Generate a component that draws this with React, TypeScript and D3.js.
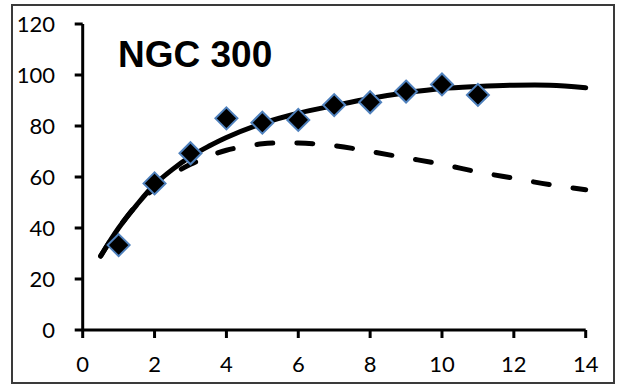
import React from "react";
import * as d3 from "d3";

const obsX = [1, 2, 3, 4, 5, 6, 7, 8, 9, 10, 11];
const obsY = [33.3, 57.5, 69.3, 83, 81.3, 82.4, 88.2, 89.3, 93.5, 96.3, 92.2];

const modelX = [0.5, 1, 1.5, 2, 2.5, 3, 3.5, 4, 5, 6, 7, 8, 9, 10, 11, 12, 13, 14];
const solidY = [29, 40, 49, 57, 63, 68, 72, 75.5, 81, 85, 88, 90.8, 93, 94.7, 95.5, 96, 96, 95];
const dashedY = [29, 40, 49, 55.5, 61, 65, 68, 70.5, 73, 73.3, 72.3, 70, 67.5, 65, 62, 59.5, 57, 55];

const xTicks = [0, 2, 4, 6, 8, 10, 12, 14];
const yTicks = [0, 20, 40, 60, 80, 100, 120];
const title = "NGC 300";

export default function App() {
  const W = 620, H = 385;
  const x = d3.scaleLinear().domain([0, 14]).range([82.7, 585.7]);
  const y = d3.scaleLinear().domain([0, 120]).range([330, 24]);
  const line = d3
    .line<number>()
    .x((_, i) => x(modelX[i]))
    .y((d) => y(d))
    .curve(d3.curveCatmullRom);
  const font = "Lato, 'Open Sans', sans-serif";
  const r = 11;
  return (
    <svg width={W} height={H} style={{ position: "absolute", left: 0, top: 0, background: "#fff" }}>
      <rect x={12} y={5} width={602} height={378} fill="#fff" stroke="#3a3a3a" strokeWidth={2} />
      {/* axes */}
      <line x1={x(0)} x2={x(14)} y1={y(0)} y2={y(0)} stroke="#000" strokeWidth={3} />
      <line x1={x(0)} x2={x(0)} y1={y(0)} y2={y(120)} stroke="#000" strokeWidth={3} />
      {yTicks.map((t) => (
        <g key={"y" + t}>
          <line x1={x(0) - 8} x2={x(0)} y1={y(t)} y2={y(t)} stroke="#000" strokeWidth={3} />
          <text x={55} y={y(t)} dy="0.36em" textAnchor="end" fontFamily={font} fontSize={22} fill="#000">
            {t}
          </text>
        </g>
      ))}
      {xTicks.map((t) => (
        <g key={"x" + t}>
          <line x1={x(t)} x2={x(t)} y1={y(0)} y2={y(0) + 8} stroke="#000" strokeWidth={3} />
          <text x={x(t)} y={372} textAnchor="middle" fontFamily={font} fontSize={22} fill="#000">
            {t}
          </text>
        </g>
      ))}
      <path d={line(dashedY) || ""} fill="none" stroke="#000" strokeWidth={5} strokeDasharray="16 24" strokeLinecap="round" />
      <path d={line(solidY) || ""} fill="none" stroke="#000" strokeWidth={5} strokeLinecap="round" />
      {obsX.map((vx, i) => {
        const cx = x(vx), cy = y(obsY[i]);
        return (
          <path
            key={"m" + i}
            d={`M${cx},${cy - r}L${cx + r},${cy}L${cx},${cy + r}L${cx - r},${cy}Z`}
            fill="#000"
            stroke="#4f81bd"
            strokeWidth={2}
          />
        );
      })}
      <text x={118} y={67} fontFamily="'Liberation Sans', Arial, sans-serif" fontWeight="bold" fontSize={37} fill="#000">
        {title}
      </text>
    </svg>
  );
}
